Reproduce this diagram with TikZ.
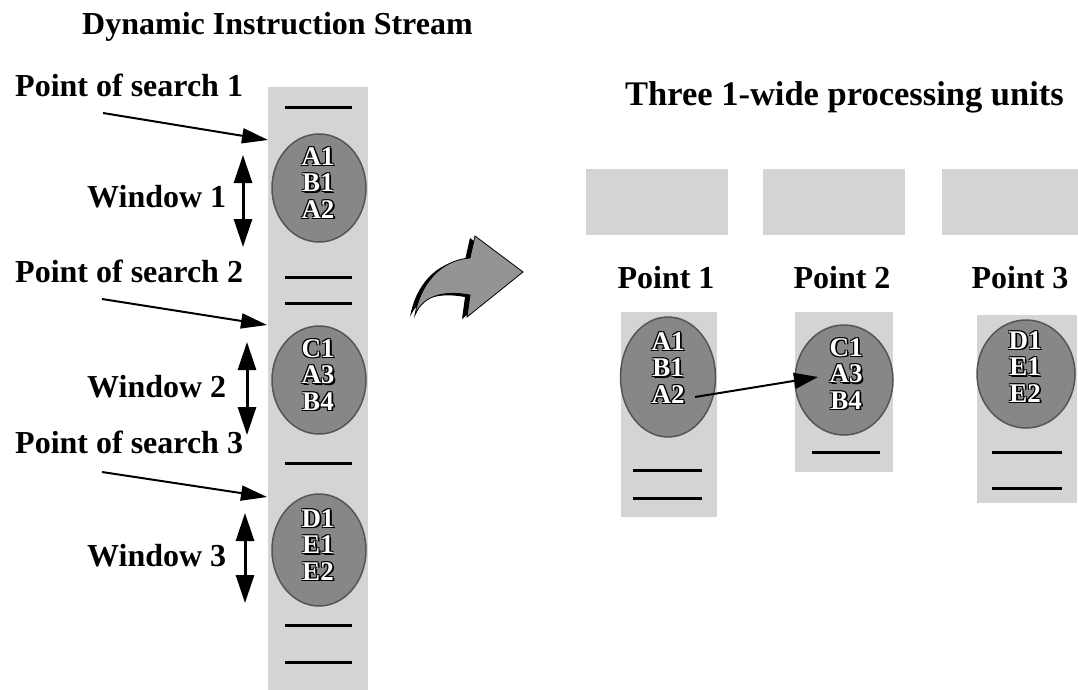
\documentclass[tikz,border=0pt]{standalone}
\usepackage{fontspec}
\setmainfont{Liberation Serif}
\usetikzlibrary{arrows.meta,shapes.geometric}

\definecolor{panel}{HTML}{D4D4D4}
\definecolor{blob}{HTML}{878787}
\definecolor{blobedge}{HTML}{555555}
\definecolor{bendgray}{HTML}{949494}

% white letters with a dark rim, as in an embossed label
\newcommand\emb[1]{\leavevmode
  \rlap{\textcolor{black}{\kern1.8pt\raisebox{-1.8pt}{#1}}}%
  \rlap{\textcolor{black}{\kern-1pt\raisebox{1pt}{#1}}}%
  \rlap{\textcolor{black}{\kern1pt\raisebox{1pt}{#1}}}%
  \rlap{\textcolor{black}{\kern-1pt\raisebox{-1pt}{#1}}}%
  \textcolor{white}{#1}}

\tikzset{
  panelbox/.style={fill=panel, draw=none},
  blob/.style={ellipse, fill=blob, draw=blobedge, line width=1.5pt, inner sep=0pt},
  slot/.style={line width=3pt},
  lbl/.style={font=\bfseries\fontsize{32}{38}\selectfont, anchor=base west, inner sep=0pt},
  ops/.style={font=\bfseries\fontsize{27}{26.5}\selectfont, align=center, inner sep=0pt},
  searcharrow/.style={line width=2pt, -{Triangle[length=26pt,width=15pt]}},
  spanarrow/.style={line width=3pt, {Triangle[length=28pt,width=18pt]}-{Triangle[length=28pt,width=18pt]}},
  linkarrow/.style={line width=2pt, -{Triangle[length=24pt,width=16pt]}},
}

\begin{document}
\begin{tikzpicture}[x=1pt,y=-1pt]
\useasboundingbox (0,0) rectangle (1078,690);

% ---------- left: dynamic instruction stream ----------
\node[lbl] (title) at (82,35) {Dynamic Instruction Stream};

\fill[panelbox] (268,87) rectangle (368,690);
\draw[slot] (285,108) -- (352,108);
\draw[slot] (285,277) -- (352,277);
\draw[slot] (285,303) -- (352,303);
\draw[slot] (285,463) -- (352,463);
\draw[slot] (285,625) -- (352,625);
\draw[slot] (285,662) -- (352,662);

\node[blob, minimum width=94pt, minimum height=108pt] (w1) at (319,188) {};
\node[blob, minimum width=94pt, minimum height=108pt] (w2) at (319,380) {};
\node[blob, minimum width=94pt, minimum height=112pt] (w3) at (319,550) {};
\node[ops] (w1t) at (318,183) {\emb{A1}\\\emb{B1}\\\emb{A2}};
\node[ops] (w2t) at (318,375) {\emb{C1}\\\emb{A3}\\\emb{B4}};
\node[ops] (w3t) at (318,545) {\emb{D1}\\\emb{E1}\\\emb{E2}};

\node[lbl] (p1) at (15,97) {Point of search 1};
\node[lbl] (p2) at (15,282) {Point of search 2};
\node[lbl] (p3) at (15,453) {Point of search 3};
\node[lbl] (n1) at (87,207) {Window 1};
\node[lbl] (n2) at (87,397) {Window 2};
\node[lbl] (n3) at (87,566) {Window 3};

\coordinate (s1) at (103,113); \coordinate (t1) at (268,140);
\coordinate (s2) at (102,299); \coordinate (t2) at (267,325);
\coordinate (s3) at (102,472); \coordinate (t3) at (267,497);
\draw[searcharrow] (s1) -- (t1);
\draw[searcharrow] (s2) -- (t2);
\draw[searcharrow] (s3) -- (t3);

\coordinate (a1) at (243,155); \coordinate (b1) at (243,247);
\coordinate (a2) at (247,342); \coordinate (b2) at (247,435);
\coordinate (a3) at (245,513); \coordinate (b3) at (245,603);
\draw[spanarrow] (a1) -- (b1);
\draw[spanarrow] (a2) -- (b2);
\draw[spanarrow] (a3) -- (b3);

% ---------- bent arrow between the halves ----------
\fill[black, shift={(-5,2)}]
  (415,315) .. controls (420,285) and (440,260) .. (470,258)
  -- (475,236) -- (523,272) -- (467,317) -- (470,295)
  .. controls (448,291) and (424,293) .. cycle;
\fill[bendgray, draw=black, line width=0.8pt]
  (415,315) .. controls (420,285) and (440,260) .. (470,258)
  -- (475,236) -- (523,272) -- (467,317) -- (470,295)
  .. controls (448,291) and (424,293) .. cycle;

% ---------- right: processing units ----------
\node[lbl, font=\bfseries\fontsize{34.5}{40}\selectfont] (units) at (625,106) {Three 1-wide processing units};

\fill[panelbox] (586,169) rectangle (728,235);
\fill[panelbox] (763,169) rectangle (905,235);
\fill[panelbox] (942,169) rectangle (1078,235);

\node[lbl, anchor=base] (q1) at (666,288) {Point 1};
\node[lbl, anchor=base] (q2) at (842,288) {Point 2};
\node[lbl, anchor=base] (q3) at (1020,288) {Point 3};

\fill[panelbox] (621,312) rectangle (717,517);
\fill[panelbox] (795,312) rectangle (893,472);
\fill[panelbox] (977,315) rectangle (1077,503);

\draw[slot] (633,470) -- (702,470);
\draw[slot] (633,498) -- (702,498);
\draw[slot] (812,452) -- (880,452);
\draw[slot] (992,452) -- (1062,452);
\draw[slot] (992,488) -- (1062,488);

\node[blob, minimum width=95pt, minimum height=120pt] (u1) at (668,377) {};
\node[blob, minimum width=98pt, minimum height=110pt] (u2) at (844,380) {};
\node[blob, minimum width=98pt, minimum height=108pt] (u3) at (1026,374) {};
\node[ops] (u1t) at (668,368) {\emb{A1}\\\emb{B1}\\\emb{A2}};
\node[ops] (u2t) at (846,374) {\emb{C1}\\\emb{A3}\\\emb{B4}};
\node[ops] (u3t) at (1025,367) {\emb{D1}\\\emb{E1}\\\emb{E2}};

\coordinate (from) at (695,397);
\coordinate (to) at (818,377);
\draw[linkarrow] (from) -- (to);
\end{tikzpicture}
\end{document}
